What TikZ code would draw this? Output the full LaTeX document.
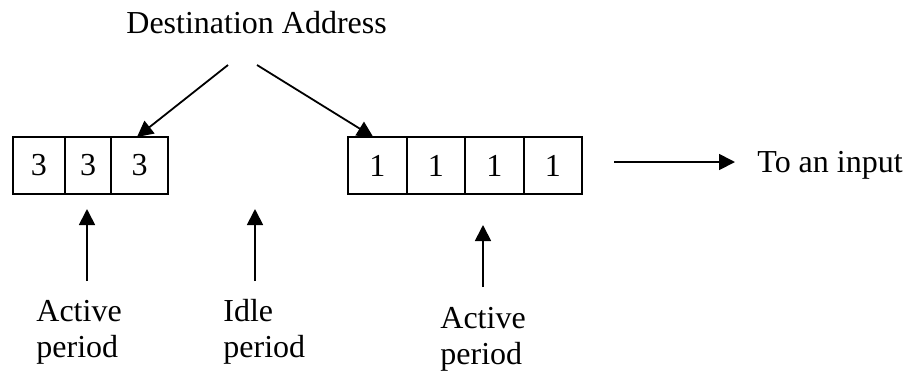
\documentclass[tikz,border=0pt]{standalone}
\usepackage{fontspec}
\setmainfont{Liberation Serif}
\usetikzlibrary{arrows.meta,positioning}

\begin{document}
\begin{tikzpicture}[x=0.5pt, y=-0.5pt,
  every node/.style={font=\fontsize{16pt}{18pt}\selectfont},
  cell/.style={draw=black, line width=1pt, minimum height=28.5pt, inner sep=0pt, outer sep=0pt},
  lbl/.style={anchor=base west, inner sep=0pt, align=left},
  arr/.style={line width=0.9pt, -{Triangle[length=8pt,width=8pt]}}]
  \useasboundingbox (0,0) rectangle (909,371);

  \node[lbl] (addr) at (126,33) {Destination Address};
  \coordinate (a1) at (228,65);
  \coordinate (a2) at (257,65);

  % packet with address 3
  \node[cell, minimum width=26pt, anchor=west] (c1) at (13,165.5) {3};
  \node[cell, minimum width=23pt, right=0pt of c1] (c2) {3};
  \node[cell, minimum width=28.5pt, right=0pt of c2] (c3) {3};

  % packet with address 1
  \node[cell, minimum width=29.25pt, anchor=west] (d1) at (348,165.5) {1};
  \node[cell, minimum width=29.25pt, right=0pt of d1] (d2) {1};
  \node[cell, minimum width=29.25pt, right=0pt of d2] (d3) {1};
  \node[cell, minimum width=29.25pt, right=0pt of d3] (d4) {1};

  \node[lbl] (inp) at (757,172) {To an input};

  % base of a two-line node sits on its last line
  \node[lbl] (act1) at (36,357) {Active\\period};
  \node[lbl] (idle) at (223,357) {Idle\\period};
  \node[lbl] (act2) at (440,364) {Active\\period};

  \coordinate (t1) at (87,281);  \coordinate (h1) at (87,209);
  \coordinate (t2) at (255,281); \coordinate (h2) at (255,209);
  \coordinate (t3) at (483,287); \coordinate (h3) at (483,225);

  \draw[arr] (a1) -- ([xshift=-1.25pt]c3.north);
  \draw[arr] (a2) -- ([xshift=-2pt]d1.north);
  \draw[arr] ([xshift=16pt,yshift=1.75pt]d4.east) -- ++(60.5pt,0);

  \draw[arr] (t1) -- (h1);
  \draw[arr] (t2) -- (h2);
  \draw[arr] (t3) -- (h3);

\end{tikzpicture}
\end{document}
